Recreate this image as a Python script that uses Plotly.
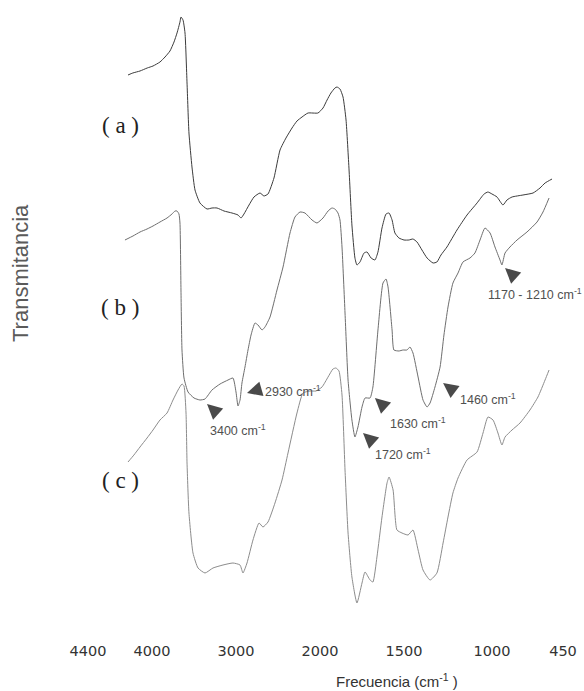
import numpy as np
import plotly.graph_objects as go

# ---- axis calibration of the original (non-uniform) wavenumber axis ----
TICK_WN = [4400, 4000, 3000, 2000, 1500, 1000, 450]
TICK_LABELS = ["4400", "4000", "3000", "2000", "1500", "1000", "450"]
AXIS_POS = [88, 152, 236, 320, 404, 492, 563]

# ---- spectra (wavenumber cm-1, transmittance in arbitrary offset units) ----
a_wn = [4150, 4120, 4075, 4030, 3988, 3905, 3845, 3786, 3738, 3702, 3667, 3655, 3631, 3607, 3583, 3560,
        3524, 3488, 3429, 3345, 3286, 3226, 3143, 3048, 2976, 2940, 2905, 2845, 2786, 2714, 2667, 2619,
        2548, 2476, 2405, 2333, 2274, 2214, 2143, 2024, 1982, 1958, 1935, 1911, 1899, 1881, 1863, 1845,
        1827, 1810, 1792, 1780, 1762, 1738, 1720, 1696, 1673, 1655, 1631, 1607, 1589, 1571, 1554, 1530,
        1500, 1472, 1449, 1426, 1398, 1369, 1335, 1313, 1290, 1256, 1199, 1142, 1085, 1045, 1023, 1000,
        961, 915, 884, 845, 760, 682, 628, 589, 535]
a_t = [113.0, 113.4, 113.8, 114.4, 114.8, 115.6, 116.6, 117.8, 119.6, 121.4, 123.6, 124.6, 124.0, 121.4, 111.4, 101.4,
       94.6, 90.0, 87.4, 86.2, 86.4, 86.4, 85.8, 85.4, 85.0, 84.4, 85.2, 87.0, 88.6, 89.4, 88.8, 89.2,
       92.4, 98.0, 100.4, 102.4, 103.8, 104.6, 105.4, 105.4, 106.4, 108.0, 109.4, 110.4, 110.6, 110.2, 108.6, 104.0,
       94.0, 83.0, 76.4, 75.0, 75.6, 77.4, 77.6, 76.4, 76.0, 77.6, 82.4, 85.2, 85.4, 84.0, 81.4, 80.4,
       80.0, 80.0, 80.2, 79.6, 78.0, 76.4, 75.4, 75.6, 77.0, 78.6, 82.0, 85.0, 87.4, 89.2, 89.6, 89.2,
       88.6, 87.0, 88.0, 88.6, 89.0, 89.4, 90.4, 91.4, 92.2]

b_wn = [4169, 4119, 4075, 4031, 3988, 3905, 3821, 3762, 3726, 3702, 3679, 3667, 3655, 3643, 3619, 3571,
        3500, 3429, 3369, 3286, 3190, 3095, 3036, 3000, 2976, 2952, 2929, 2893, 2857, 2821, 2774, 2738,
        2690, 2655, 2595, 2512, 2440, 2357, 2298, 2238, 2179, 2095, 2036, 1982, 1952, 1929, 1911, 1893,
        1881, 1869, 1851, 1833, 1810, 1792, 1774, 1750, 1732, 1702, 1685, 1655, 1625, 1607, 1595, 1571,
        1560, 1530, 1506, 1483, 1466, 1449, 1420, 1392, 1369, 1352, 1324, 1295, 1273, 1250, 1222, 1193,
        1165, 1125, 1097, 1068, 1040, 1011, 977, 938, 923, 899, 861, 806, 729, 651, 605, 558]
b_t = [80.0, 80.8, 81.6, 82.2, 82.8, 83.6, 84.4, 85.2, 85.8, 85.8, 85.2, 83.4, 70.0, 58.0, 52.4, 49.6,
       48.4, 48.0, 48.2, 50.0, 51.2, 52.0, 52.4, 49.6, 46.8, 48.0, 51.4, 54.6, 58.0, 61.0, 63.4, 63.0,
       62.0, 62.6, 64.6, 70.0, 74.6, 81.4, 84.6, 85.6, 85.4, 84.0, 83.4, 84.4, 85.8, 86.4, 86.2, 85.4,
       84.0, 78.6, 65.4, 52.0, 44.0, 40.6, 42.6, 46.6, 48.4, 48.4, 50.6, 62.0, 71.4, 72.2, 70.6, 62.0,
       58.0, 57.8, 58.0, 58.0, 58.6, 57.4, 52.6, 48.0, 46.6, 47.4, 50.6, 54.6, 61.0, 66.6, 71.4, 73.4,
       75.6, 76.4, 77.4, 80.0, 82.4, 81.4, 78.6, 76.0, 75.0, 77.4, 78.6, 80.0, 81.6, 83.6, 85.6, 88.4]

c_wn = [4150, 4113, 4075, 4031, 3988, 3905, 3821, 3750, 3690, 3643, 3619, 3595, 3583, 3560, 3512, 3452,
        3369, 3274, 3155, 3036, 2952, 2917, 2869, 2798, 2726, 2679, 2619, 2536, 2452, 2381, 2274, 2202,
        2119, 2048, 1988, 1952, 1923, 1905, 1887, 1869, 1851, 1833, 1810, 1780, 1750, 1732, 1702, 1685,
        1661, 1631, 1601, 1589, 1565, 1542, 1512, 1477, 1449, 1420, 1392, 1352, 1313, 1278, 1250, 1222,
        1193, 1142, 1085, 1051, 1023, 992, 954, 923, 899, 845, 783, 706, 644, 589, 558]
c_t = [35.6, 37.0, 38.6, 40.4, 42.0, 44.0, 45.4, 48.0, 50.0, 51.2, 50.8, 45.4, 35.4, 25.4, 17.4, 14.4,
       13.4, 14.4, 15.0, 15.4, 15.0, 13.4, 15.4, 20.0, 23.4, 22.6, 23.6, 27.4, 32.0, 37.4, 45.4, 49.4,
       49.8, 49.8, 50.6, 52.6, 54.2, 54.4, 53.8, 49.0, 34.0, 21.4, 12.6, 7.4, 11.4, 13.6, 12.0, 11.6,
       16.6, 24.6, 31.4, 32.6, 30.0, 22.0, 21.4, 21.0, 22.0, 18.0, 14.0, 12.0, 13.4, 19.4, 24.6, 29.4,
       32.4, 36.0, 37.6, 41.4, 44.6, 44.0, 41.4, 39.0, 40.6, 42.0, 43.4, 46.0, 48.6, 52.0, 54.0]

SERIES_NAMES = ["( a )", "( b )", "( c )"]

# ---- marked bands (arrow tip on spectrum b) ----
BAND_LABELS = ["3400 cm<sup>-1</sup>", "2930 cm<sup>-1</sup>", "1630 cm<sup>-1</sup>",
               "1720 cm<sup>-1</sup>", "1460 cm<sup>-1</sup>", "1170 - 1210 cm<sup>-1</sup>"]
BAND_WN = [3345, 2869, 1673, 1744, 1278, 899]
BAND_T = [47.2, 49.4, 48.4, 41.4, 51.4, 74.4]


def axis_pos(wn):
    wn = np.asarray(wn, dtype=float)
    return np.interp(-wn, -np.asarray(TICK_WN, float), np.asarray(AXIS_POS, float))


fig = go.Figure()
line_colors = ["#3c3c3c", "#6e6e6e", "#8c8c8c"]
for name, wn, t, col in zip(SERIES_NAMES, [a_wn, b_wn, c_wn], [a_t, b_t, c_t], line_colors):
    fig.add_trace(go.Scatter(x=axis_pos(wn), y=t, mode="lines", name=name,
                             line=dict(color=col, width=1.0, shape="spline", smoothing=0.5),
                             showlegend=False, hoverinfo="skip"))

annotations = []
# arrow heads and their texts
arrow_dirs = [(11, 10), (14, -4), (11, 10), (11, 10), (12, 9), (11, 10)]
text_shift = [(1, -26), (16, 2), (13, -25), (10, -21), (15, -16), (-19, -26)]
for lab, wn, t, (ax, ay), (dx, dy) in zip(BAND_LABELS, BAND_WN, BAND_T, arrow_dirs, text_shift):
    xp = float(axis_pos([wn])[0])
    annotations.append(dict(x=xp, y=t, xref="x", yref="y", text="", showarrow=True,
                            ax=ax, ay=ay, axref="pixel", ayref="pixel",
                            arrowhead=2, arrowsize=1.5, arrowwidth=2, arrowcolor="#4a4a4a"))
    annotations.append(dict(x=xp, y=t, xref="x", yref="y", text=lab, showarrow=False,
                            xanchor="left", yanchor="middle", xshift=dx, yshift=dy,
                            font=dict(family="Liberation Sans, Arial", size=12.5, color="#505050")))

# series labels
label_y = [103.0, 66.6, 32.0]
for name, yv in zip(SERIES_NAMES, label_y):
    annotations.append(dict(x=120, y=yv, xref="x", yref="y", text=name, showarrow=False,
                            xanchor="center", yanchor="middle",
                            font=dict(family="Liberation Serif, Times New Roman", size=23, color="#222222")))

# axis titles
annotations.append(dict(x=20, y=73.4, xref="x", yref="y", text="Transmitancia", showarrow=False,
                        textangle=-90, xanchor="center", yanchor="middle",
                        font=dict(family="Liberation Sans, Arial", size=22, color="#5a5a5a")))
annotations.append(dict(x=397, y=-0.064, xref="x", yref="paper", text="Frecuencia (cm<sup>-1</sup> )",
                        showarrow=False, xanchor="center", yanchor="middle",
                        font=dict(family="Liberation Sans, Arial", size=15, color="#333333")))

fig.update_layout(
    width=584, height=691,
    margin=dict(l=0, r=0, t=0, b=51),
    paper_bgcolor="white", plot_bgcolor="white",
    showlegend=False,
    annotations=annotations,
    xaxis=dict(range=[0, 584], showgrid=False, zeroline=False, showline=False, ticks="",
               tickvals=AXIS_POS, ticktext=TICK_LABELS,
               tickfont=dict(family="DejaVu Sans", size=14.5, color="#333333")),
    yaxis=dict(range=[0, 128], showgrid=False, zeroline=False, showline=False,
               showticklabels=False, ticks=""),
)

fig.write_html("out.html")
